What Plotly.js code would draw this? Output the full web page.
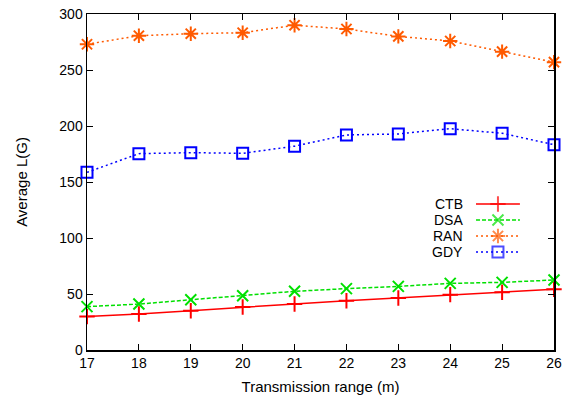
<!DOCTYPE html>
<html><head><meta charset="utf-8">
<script src="https://cdn.plot.ly/plotly-3.0.1.min.js"></script>
<style>html,body{margin:0;padding:0;background:#fff}#chart{width:575px;height:405px}</style>
</head><body><div id="chart"></div>
<script>
const ranges = [17, 18, 19, 20, 21, 22, 23, 24, 25, 26];
const ctb = [29.8, 32.1, 35.1, 38.4, 41.1, 44.0, 46.4, 49.4, 51.5, 54.2];
const dsa = [38.7, 41.0, 44.9, 48.5, 52.4, 54.8, 56.8, 59.5, 60.4, 62.5];
const ran = [273, 280.6, 282.4, 283.3, 290, 286.6, 280, 275.9, 266.4, 257];
const gdy = [158.6, 175.3, 176.2, 175.6, 182, 192, 192.9, 197.6, 193.5, 183.3];
const seriesNames = ['CTB', 'DSA', 'RAN', 'GDY'];
const yTicks = [0, 50, 100, 150, 200, 250, 300];

const styles = [
  {color: '#ff0000', dash: 'solid', symbol: 'cross-thin-open', size: 11},
  {color: '#00e000', dash: '4px,2px', symbol: 'x-thin-open', size: 11},
  {color: '#ff5a00', dash: '2px,3px', symbol: 'asterisk-open', size: 12},
  {color: '#0000ff', dash: '2px,3px', symbol: 'square-open', size: 11}
];
const values = [ctb, dsa, ran, gdy];

const traces = [];
values.forEach((v, i) => {
  const s = styles[i];
  traces.push({
    x: ranges, y: v, type: 'scatter', mode: 'lines+markers', name: seriesNames[i],
    line: {color: s.color, width: 1.5, dash: s.dash},
    marker: {symbol: s.symbol, size: s.size, color: s.color, line: {color: s.color, width: 2}},
    showlegend: false, cliponaxis: false
  });
});

// custom gnuplot-style key (text on the left of the sample)
const annotations = [];
const keyX0 = 0.833, keyX1 = 0.927, keyTextX = 0.809, keyY0 = 0.4345, keyStep = 0.0476;
seriesNames.forEach((n, i) => {
  const s = styles[i];
  const yy = keyY0 - i * keyStep;
  traces.push({
    x: [keyX0, (keyX0 + keyX1) / 2, keyX1], y: [yy, yy, yy],
    xaxis: 'x2', yaxis: 'y2', type: 'scatter', mode: 'lines+markers', showlegend: false,
    hoverinfo: 'skip',
    line: {color: s.color, width: 1.5, dash: s.dash},
    marker: {symbol: s.symbol, size: [0, s.size, 0], color: s.color, line: {color: s.color, width: 2}}
  });
  annotations.push({
    xref: 'x2', yref: 'y2', x: keyTextX, y: yy, text: n, showarrow: false,
    xanchor: 'right', yanchor: 'middle', font: {family: 'Liberation Sans, Arial, sans-serif', size: 14, color: '#000'}
  });
});

const layout = {
  width: 575, height: 405,
  margin: {l: 87, r: 21, t: 14, b: 55},
  paper_bgcolor: '#fff', plot_bgcolor: '#fff',
  font: {family: 'Liberation Sans, Arial, sans-serif', size: 14, color: '#000'},
  showlegend: false,
  xaxis: {
    range: [17, 26], tickvals: ranges, ticks: 'inside', ticklen: 6, tickcolor: '#000',
    showline: true, linecolor: '#000', linewidth: 1.5, mirror: 'ticks', showgrid: false, zeroline: false,
    title: {text: 'Transmission range (m)', font: {size: 15}, standoff: 11},
    automargin: false
  },
  yaxis: {
    range: [0, 300], tickvals: yTicks, ticks: 'inside', ticklen: 6, tickcolor: '#000',
    showline: true, linecolor: '#000', linewidth: 1.5, mirror: 'ticks', showgrid: false, zeroline: false,
    title: {text: 'Average L(G)', font: {size: 15}, standoff: 28},
    automargin: false
  },
  xaxis2: {overlaying: 'x', range: [0, 1], visible: false, fixedrange: true},
  yaxis2: {overlaying: 'y', range: [0, 1], visible: false, fixedrange: true},
  annotations: annotations
};

Plotly.newPlot('chart', traces, layout, {staticPlot: true});
</script></body></html>
